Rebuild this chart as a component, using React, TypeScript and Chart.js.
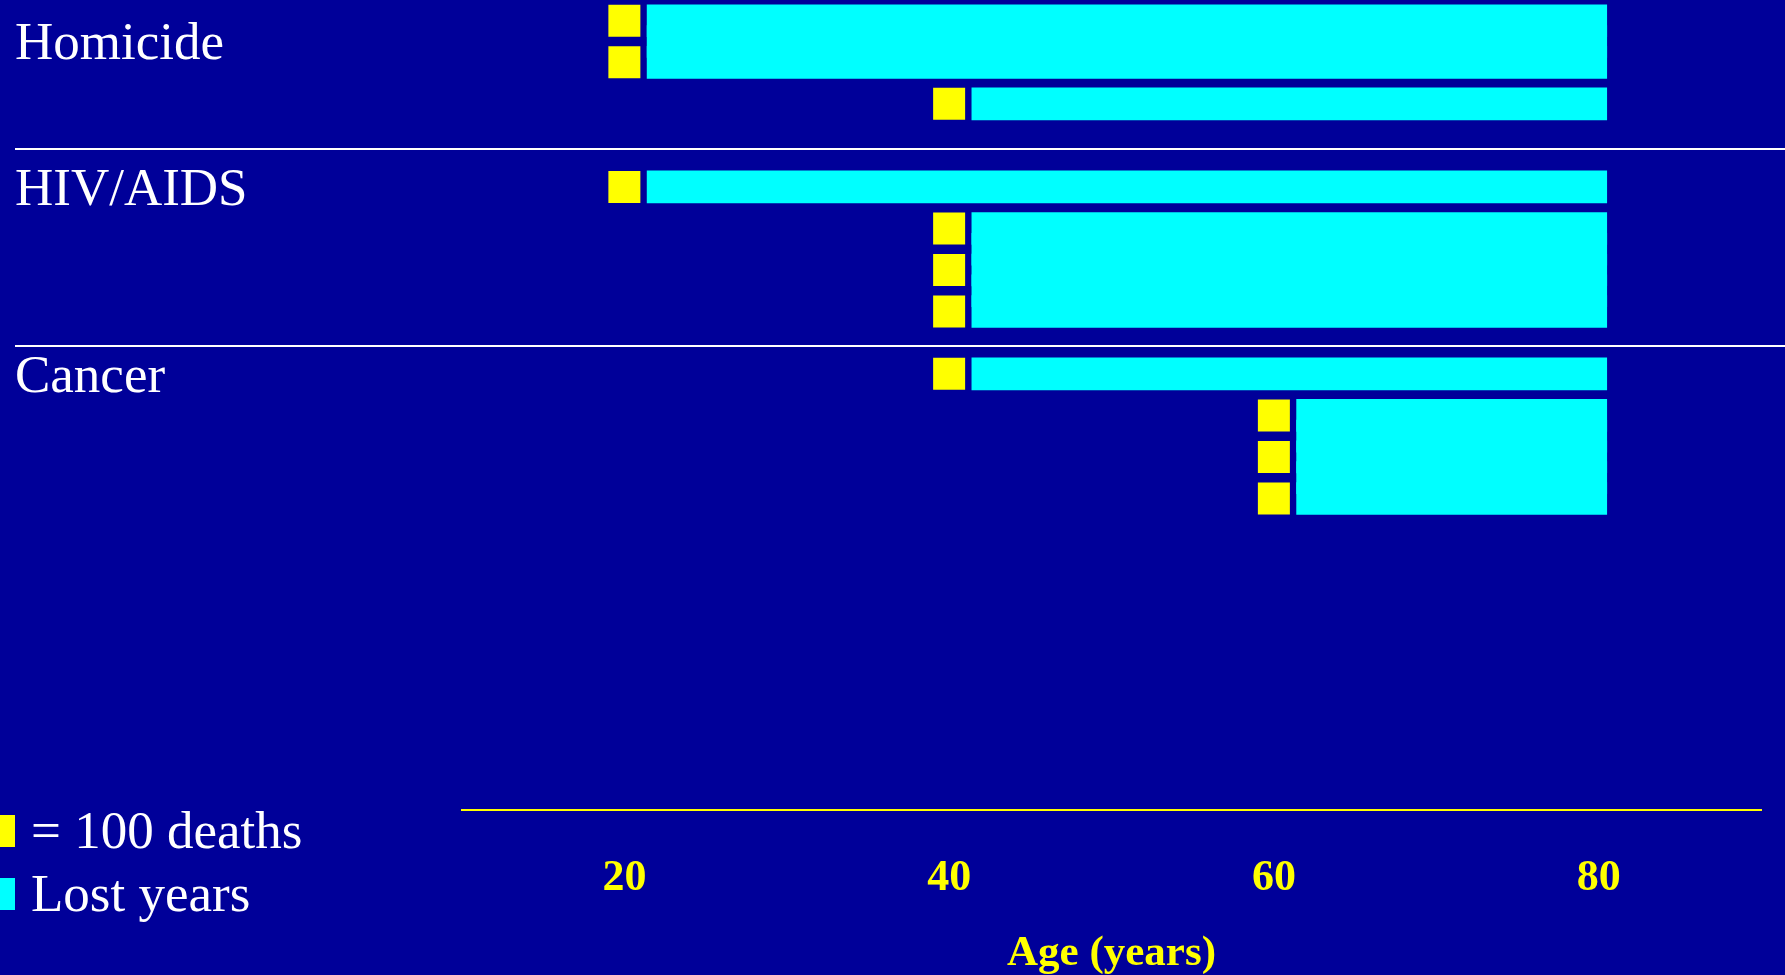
import { useEffect, useRef } from 'react';
import { Chart, registerables } from 'chart.js';

Chart.register(...registerables);

// Causes of death, listed top to bottom
const CAUSES = ['Homicide', 'HIV/AIDS', 'Cancer'];
// Age at death of each cluster within a cause
const DEATH_AGES = [
  [20, 40],
  [20, 40],
  [40, 60],
];
// Number of deaths in each cluster
const DEATH_COUNTS = [
  [200, 100],
  [100, 300],
  [100, 300],
];
// One yellow square stands for this many deaths
const DEATHS_PER_SQUARE = 100;
// Age where the lost-years bars stop
const LOST_YEARS_UNTIL = 80.5;
// Age axis tick labels
const AGE_TICKS = [20, 40, 60, 80];

const LEGEND_LABELS = ['= 100 deaths', 'Lost years'];
const AXIS_TITLE = 'Age (years)';

// ---- styling and layout ----
const BG = '#000099';
const YELLOW = '#FFFF00';
const CYAN = '#00FFFF';
const WHITE = '#FFFFFF';
const SERIF = '"Liberation Serif", "Times New Roman", Times, serif';

const WIDTH = 1785;
const HEIGHT = 975;
const SQUARE_PX = 32;
const BAR_GAP_YEARS = 1.4; // room for the square before its lost-years bar
const GROUP_START = [0, 4, 8.5]; // first slot of each cause on the y scale
const SLOT_RANGE = 19.5;
const AGE_MIN = 10;
const AGE_MAX = 90;

type Pt = { x: number; y: number };
type FloatBar = { x: [number, number]; y: number };

const squares: Pt[] = [];
const lostYears: FloatBar[] = [];
const labelSlots: number[] = [];
const separatorSlots: number[] = [];

let prevLastCenter: number | null = null;
CAUSES.forEach((_, g) => {
  let slot = GROUP_START[g];
  if (prevLastCenter !== null) separatorSlots.push((prevLastCenter + slot + 0.5) / 2 + 0.08);
  DEATH_AGES[g].forEach((age, k) => {
    const n = DEATH_COUNTS[g][k] / DEATHS_PER_SQUARE;
    if (k === 0) labelSlots.push(slot + n / 2);
    const first = slot + 0.5;
    const last = slot + n - 0.5;
    for (let j = 0; j < n; j++) squares.push({ x: age, y: first + j });
    // one bar per square plus one between neighbours, so a cluster reads as a single block
    for (let y = first; y <= last + 1e-9; y += 0.5) {
      lostYears.push({ x: [age + BAR_GAP_YEARS, LOST_YEARS_UNTIL], y });
    }
    prevLastCenter = last;
    slot += n;
  });
});

const separatorPlugin = {
  id: 'groupSeparators',
  beforeDatasetsDraw(chart: any) {
    const { ctx } = chart;
    const y = chart.scales.y;
    ctx.save();
    ctx.strokeStyle = WHITE;
    ctx.lineWidth = 2;
    separatorSlots.forEach((v) => {
      const py = Math.round(y.getPixelForValue(v));
      ctx.beginPath();
      ctx.moveTo(y.left, py);
      ctx.lineTo(chart.width, py);
      ctx.stroke();
    });
    ctx.restore();
  },
};

const keyPlugin = {
  id: 'squareKey',
  afterDraw(chart: any) {
    const { ctx, chartArea } = chart;
    ctx.save();
    ctx.font = `53px ${SERIF}`;
    ctx.textBaseline = 'middle';
    ctx.textAlign = 'left';
    chart.data.datasets.forEach((ds: any, i: number) => {
      const cy = chartArea.bottom + 21 + i * 63;
      ctx.fillStyle = ds.backgroundColor;
      ctx.fillRect(0, cy - SQUARE_PX / 2, 15, SQUARE_PX);
      ctx.fillStyle = WHITE;
      ctx.fillText(ds.label, 31, cy + 3);
    });
    ctx.restore();
  },
};

export default function App() {
  const ref = useRef<HTMLCanvasElement>(null);

  useEffect(() => {
    const canvas = ref.current;
    if (!canvas) return;
    const chart = new Chart(canvas, {
      type: 'bar',
      data: {
        datasets: [
          {
            type: 'scatter',
            label: LEGEND_LABELS[0],
            data: squares,
            backgroundColor: YELLOW,
            pointBackgroundColor: YELLOW,
            pointStyle: 'rect',
            pointRadius: SQUARE_PX / Math.SQRT2,
            pointHoverRadius: SQUARE_PX / Math.SQRT2,
            pointBorderWidth: 0,
            clip: false,
          } as any,
          {
            type: 'bar',
            label: LEGEND_LABELS[1],
            data: lostYears as any,
            indexAxis: 'y',
            backgroundColor: CYAN,
            barThickness: SQUARE_PX,
            borderWidth: 0,
            clip: false,
          } as any,
        ],
      },
      options: {
        responsive: false,
        animation: false,
        devicePixelRatio: 1,
        events: [],
        layout: { autoPadding: false, padding: { left: 15, right: 24, top: 0, bottom: 0 } },
        plugins: {
          legend: { display: false },
          tooltip: { enabled: false },
        },
        scales: {
          x: {
            type: 'linear',
            position: 'bottom',
            offset: false,
            min: AGE_MIN,
            max: AGE_MAX,
            grid: { display: false, drawTicks: false, offset: false },
            border: { display: true, color: YELLOW, width: 2 },
            afterBuildTicks: (axis: any) => {
              axis.ticks = AGE_TICKS.map((value) => ({ value }));
            },
            afterFit: (axis: any) => {
              axis.height = 165;
              axis.paddingLeft = 0;
              axis.paddingRight = 0;
            },
            ticks: {
              color: YELLOW,
              font: { family: SERIF, size: 44, weight: 'bold' },
              padding: 42,
              autoSkip: false,
              maxRotation: 0,
            },
            title: {
              display: true,
              text: AXIS_TITLE,
              color: YELLOW,
              font: { family: SERIF, size: 43, weight: 'bold', lineHeight: 1 },
              padding: 0,
            },
          },
          y: {
            type: 'linear',
            position: 'left',
            offset: false,
            reverse: true,
            min: 0,
            max: SLOT_RANGE,
            grid: { display: false, drawTicks: false, offset: false },
            border: { display: false },
            afterBuildTicks: (axis: any) => {
              axis.ticks = labelSlots.map((value) => ({ value }));
            },
            afterFit: (axis: any) => {
              axis.width = 447;
              axis.paddingTop = 0;
              axis.paddingBottom = 0;
            },
            ticks: {
              color: WHITE,
              font: { family: SERIF, size: 53 },
              padding: 0,
              labelOffset: 4,
              crossAlign: 'far',
              autoSkip: false,
              callback: (value: any) => CAUSES[labelSlots.indexOf(Number(value))] ?? '',
            },
          },
        },
      } as any,
      plugins: [separatorPlugin, keyPlugin],
    });
    return () => chart.destroy();
  }, []);

  return (
    <div
      style={{
        position: 'fixed',
        left: 0,
        top: 0,
        width: WIDTH,
        height: HEIGHT,
        background: BG,
        overflow: 'hidden',
      }}
    >
      <canvas ref={ref} width={WIDTH} height={HEIGHT} style={{ display: 'block' }} />
    </div>
  );
}
